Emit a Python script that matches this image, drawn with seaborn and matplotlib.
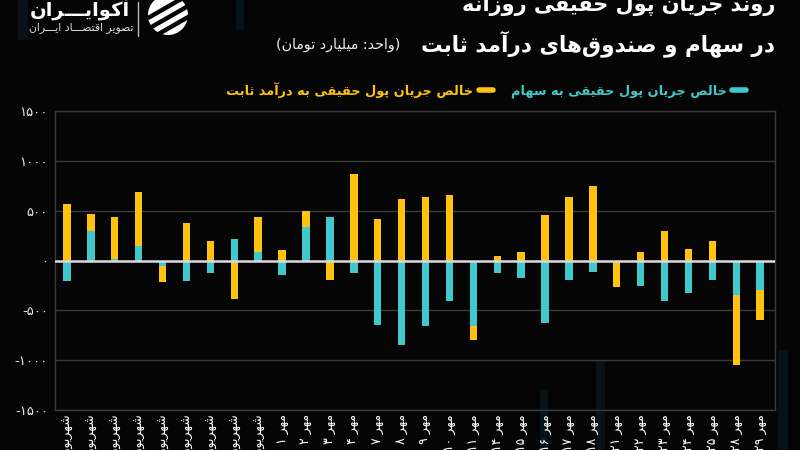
import matplotlib
matplotlib.use("Agg")
import matplotlib.pyplot as plt
import numpy as np
import pandas as pd
import seaborn as sns
from matplotlib.lines import Line2D
from matplotlib.patches import Circle, Rectangle

# ---------------- data ----------------
shahrivar_days = ["۱۸", "۱۹", "۲۰", "۲۴", "۲۵", "۲۶", "۲۷", "۲۸", "۳۱"]
mehr_days = ["۱", "۲", "۳", "۴", "۷", "۸", "۹", "۱۰", "۱۱", "۱۴", "۱۵", "۱۶",
             "۱۷", "۱۸", "۲۱", "۲۲", "۲۳", "۲۴", "۲۵", "۲۸", "۲۹"]
dates = ["شهریور " + d for d in shahrivar_days] + ["مهر " + d for d in mehr_days]

# net real money flow into stocks (cyan)
stock_flow = [-205, 300, 15, 150, -60, -210, -125, 220, 85, -150, 335, 435, -125,
              -650, -845, -655, -410, -660, -130, -180, -625, -195, -115, 0,
              -255, -410, -330, -195, -345, -300]
# net real money flow into fixed income funds (yellow), stacked on stocks
fixed_flow = [565, 165, 425, 540, -155, 380, 200, -390, 355, 110, 160, -200, 865,
              415, 615, 635, 660, -140, 50, 90, 460, 640, 745, -265, 90, 295,
              115, 195, -700, -295]

yticks = [-1500, -1000, -500, 0, 500, 1000, 1500]

title_line1 = "روند جریان پول حقیقی روزانه"
title_line2 = "در سهام و صندوق\u200cهای درآمد ثابت"
unit_text = "(واحد: میلیارد تومان)"
label_stock = "خالص جریان پول حقیقی به سهام"
label_fixed = "خالص جریان پول حقیقی به درآمد ثابت"
logo_name = "آکوایـــران"
logo_sub = "تصویر اقتصـــاد ایـــران"

# ------------- minimal Persian shaping (presentation forms + RTL order) -------------
def _r(start, n):
    return tuple(chr(start + i) for i in range(n))

FORMS = {
    'ء': ('\uFE80',), 'آ': _r(0xFE81, 2), 'أ': _r(0xFE83, 2), 'ؤ': _r(0xFE85, 2),
    'إ': _r(0xFE87, 2), 'ئ': _r(0xFE89, 4), 'ا': _r(0xFE8D, 2), 'ب': _r(0xFE8F, 4),
    'ة': _r(0xFE93, 2), 'ت': _r(0xFE95, 4), 'ث': _r(0xFE99, 4), 'ج': _r(0xFE9D, 4),
    'ح': _r(0xFEA1, 4), 'خ': _r(0xFEA5, 4), 'د': _r(0xFEA9, 2), 'ذ': _r(0xFEAB, 2),
    'ر': _r(0xFEAD, 2), 'ز': _r(0xFEAF, 2), 'س': _r(0xFEB1, 4), 'ش': _r(0xFEB5, 4),
    'ص': _r(0xFEB9, 4), 'ض': _r(0xFEBD, 4), 'ط': _r(0xFEC1, 4), 'ظ': _r(0xFEC5, 4),
    'ع': _r(0xFEC9, 4), 'غ': _r(0xFECD, 4), 'ف': _r(0xFED1, 4), 'ق': _r(0xFED5, 4),
    'ك': _r(0xFED9, 4), 'ل': _r(0xFEDD, 4), 'م': _r(0xFEE1, 4), 'ن': _r(0xFEE5, 4),
    'ه': _r(0xFEE9, 4), 'و': _r(0xFEED, 2), 'ى': _r(0xFEEF, 2), 'ي': _r(0xFEF1, 4),
    'پ': _r(0xFB56, 4), 'چ': _r(0xFB7A, 4), 'ژ': _r(0xFB8A, 2), 'ک': _r(0xFB8E, 4),
    'گ': _r(0xFB92, 4), 'ی': _r(0xFBFC, 4), 'ـ': ('ـ', 'ـ', 'ـ', 'ـ'),
}
LTR = set("0123456789۰۱۲۳۴۵۶۷۸۹.,/%")


def fa(s):
    out = []
    for i, c in enumerate(s):
        if c not in FORMS:
            if c != '\u200c':
                out.append(c)
            continue
        p = s[i - 1] if i > 0 else None
        n = s[i + 1] if i + 1 < len(s) else None
        jp = p in FORMS and len(FORMS[p]) == 4 and len(FORMS[c]) >= 2
        jn = n in FORMS and len(FORMS[c]) == 4 and len(FORMS[n]) >= 2
        f = FORMS[c]
        if jp and jn:
            out.append(f[3])
        elif jp:
            out.append(f[1])
        elif jn:
            out.append(f[2])
        else:
            out.append(f[0])
    rev = out[::-1]
    res, run = [], []
    for c in rev:
        if c in LTR:
            run.append(c)
        else:
            if run:
                res.extend(run[::-1])
                run = []
            res.append(c)
    if run:
        res.extend(run[::-1])
    swap = {'(': ')', ')': '('}
    return "".join(swap.get(c, c) for c in res)


def fa_num(v):
    d = str(abs(int(v))).translate(str.maketrans("0123456789", "۰۱۲۳۴۵۶۷۸۹"))
    return ("-" + d) if v < 0 else d

# ---------------- style ----------------
sns.set_theme(style="dark")
plt.rcParams['font.family'] = ['DejaVu Sans']

BG = "#050505"
YEL = "#FFC20E"
CYAN = "#3FC9CC"
GRID = "#3a3a3a"

fig = plt.figure(figsize=(8, 4.5), dpi=100, facecolor=BG)

# decorative layer in pixel coords
deco = fig.add_axes([0, 0, 1, 1], zorder=0)
deco.set_xlim(0, 800)
deco.set_ylim(450, 0)
deco.axis("off")
for x0, w, y0, y1 in [(18, 10, 0, 40), (236, 8, 0, 30), (596, 9, 360, 450),
                      (778, 10, 350, 450), (540, 8, 390, 450)]:
    deco.add_patch(Rectangle((x0, y0), w, y1 - y0, color="#0b1d26", alpha=0.5, lw=0))

ax = fig.add_axes([55 / 800, 1 - 410 / 450, 720 / 800, 299 / 450], zorder=1)
ax.set_facecolor("none")

shaped_dates = [fa(d) for d in dates]
yellow_end = [s + f if s * f > 0 else f for s, f in zip(stock_flow, fixed_flow)]
df = pd.DataFrame({"date": shaped_dates, "stock": stock_flow, "yellow_end": yellow_end})

sns.barplot(data=df, x="date", y="yellow_end", order=shaped_dates, color=YEL,
            saturation=1, width=0.31, linewidth=0, ax=ax, zorder=2)
sns.barplot(data=df, x="date", y="stock", order=shaped_dates, color=CYAN,
            saturation=1, width=0.31, linewidth=0, ax=ax, zorder=3)

ax.set_xlim(-0.5, 29.62)
ax.set_ylim(-1500, 1500)
ax.set_yticks(yticks)
ax.set_yticklabels([fa_num(v) for v in yticks], color="#e8e8e8", fontsize=9.5)
ax.tick_params(axis="y", length=0, pad=5)
ax.tick_params(axis="x", length=0, pad=3, labelrotation=90, labelcolor="white", labelsize=9)
ax.set_xlabel("")
ax.set_ylabel("")
ax.yaxis.grid(True, color=GRID, lw=1)
ax.xaxis.grid(False)
ax.set_axisbelow(True)
ax.axhline(0, color="#d9d9d9", lw=1.8, zorder=4)
for sp in ax.spines.values():
    sp.set_visible(True)
    sp.set_color(GRID)
    sp.set_linewidth(1)

# legend
handles = [Line2D([0], [0], color=YEL, lw=4, solid_capstyle="round"),
           Line2D([0], [0], color=CYAN, lw=4, solid_capstyle="round")]
leg = fig.legend(handles, [fa(label_fixed), fa(label_stock)], loc="center right",
                 bbox_to_anchor=(758 / 800, 1 - 90 / 450), ncol=2, frameon=False,
                 markerfirst=False, handlelength=1.1, handletextpad=0.4,
                 columnspacing=1.4, prop={"size": 9.3, "weight": "bold"})
for t, c in zip(leg.get_texts(), [YEL, CYAN]):
    t.set_color(c)

# titles
fig.text(775 / 800, 1 - 6 / 450, fa(title_line1), ha="right", va="center",
         color="white", fontsize=15, fontweight="bold")
fig.text(775 / 800, 1 - 44 / 450, fa(title_line2), ha="right", va="center",
         color="white", fontsize=15.5, fontweight="bold")
fig.text(400 / 800, 1 - 45 / 450, fa(unit_text), ha="right", va="center",
         color="#f0f0f0", fontsize=10.3)

# logo
deco.text(80, 9, fa(logo_name), ha="center", va="center", color="white",
          fontsize=14, fontweight="bold")
deco.text(81, 28, fa(logo_sub), ha="center", va="center", color="#dddddd", fontsize=7.8)
deco.plot([138, 138], [2, 36], color="#bbbbbb", lw=1)
deco.add_patch(Circle((168, 15), 20, color="white", lw=0))
for off in (-9, 2, 13):
    deco.plot([148, 190], [15 + off + 12, 15 + off - 12], color=BG, lw=3.2,
              solid_capstyle="butt")

fig.savefig("out.png", dpi=100, facecolor=BG)
